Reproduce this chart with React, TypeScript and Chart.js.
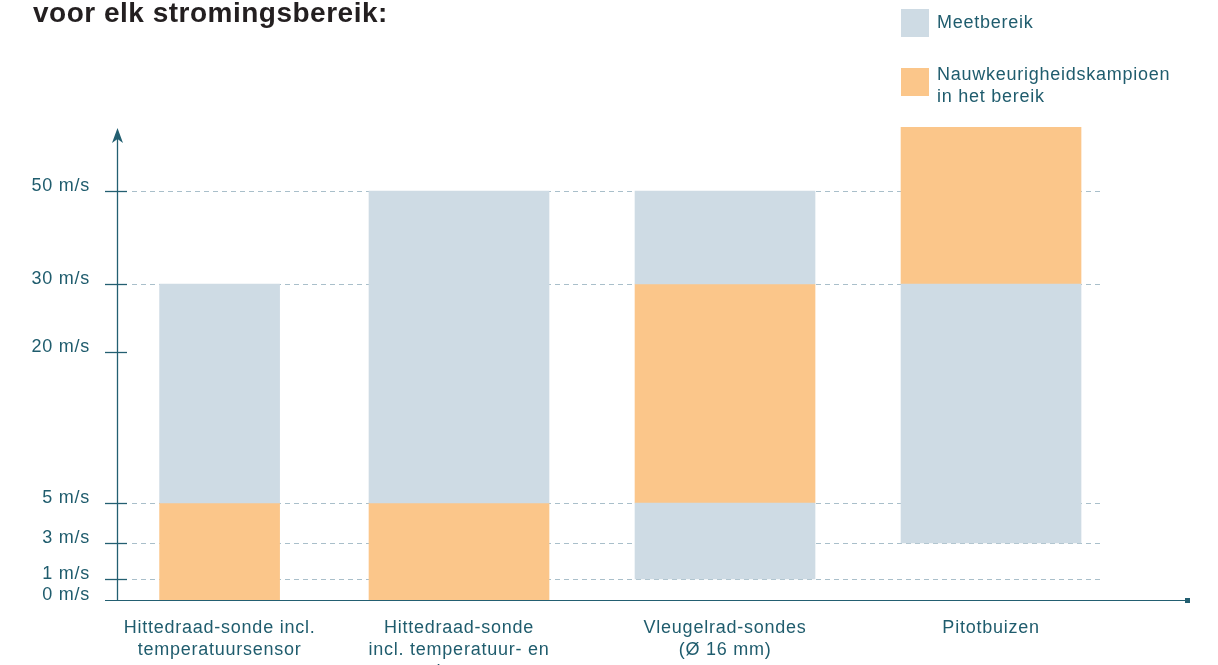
import React, { useEffect, useRef } from 'react';
import { Chart, registerables, LinearScale } from 'chart.js';

// ---------- data ----------
const categories: string[][] = [
  ['Hittedraad-sonde incl.', 'temperatuursensor'],
  ['Hittedraad-sonde', 'incl. temperatuur- en', 'vochtsensor'],
  ['Vleugelrad-sondes', '(Ø 16 mm)'],
  ['Pitotbuizen'],
];
const categoryX = [0.1, 1, 2, 3];
const meetbereik: ([number, number] | null)[] = [[5, 30], [5, 50], [1, 5], [3, 30]];
const meetbereikBoven: ([number, number] | null)[] = [null, null, [30, 50], null];
const nauwkeurigheid: ([number, number] | null)[] = [[0, 5], [0, 5], [5, 30], [30, 100]];
const yTickValues = [0, 1, 3, 5, 20, 30, 50];
const gridValues = [1, 3, 5, 30, 50];
const axisMax = 100;

// ---------- axis break layout (share of axis height per value) ----------
const breakValues = [0, 1, 3, 5, 20, 30, 50, 100];
const breakShares = [0, 21, 57, 97, 248, 316, 409, 473].map((p) => p / 473);

// ---------- styles ----------
const FONT = '"Liberation Sans", Arial, Helvetica, sans-serif';
const TEAL = '#1f5c6d';
const AXIS = '#235f71';
const BLUE = '#cedbe4';
const ORANGE = '#fbc68a';
const GRID = '#a9bfca';
const SPACING = '0.75px';

function toShare(v: number): number {
  if (v <= breakValues[0]) return breakShares[0];
  for (let i = 1; i < breakValues.length; i++) {
    if (v <= breakValues[i]) {
      const t = (v - breakValues[i - 1]) / (breakValues[i] - breakValues[i - 1]);
      return breakShares[i - 1] + t * (breakShares[i] - breakShares[i - 1]);
    }
  }
  return breakShares[breakShares.length - 1];
}
function fromShare(s: number): number {
  if (s <= breakShares[0]) return breakValues[0];
  for (let i = 1; i < breakShares.length; i++) {
    if (s <= breakShares[i]) {
      const t = (s - breakShares[i - 1]) / (breakShares[i] - breakShares[i - 1]);
      return breakValues[i - 1] + t * (breakValues[i] - breakValues[i - 1]);
    }
  }
  return breakValues[breakValues.length - 1];
}

class BrokenScale extends LinearScale {
  static id = 'broken';
  static defaults = LinearScale.defaults;
  getPixelForValue(value: number) {
    return (this as any).getPixelForDecimal(toShare(value));
  }
  getValueForPixel(pixel: number) {
    return fromShare((this as any).getDecimalForPixel(pixel));
  }
}

Chart.register(...registerables, BrokenScale as any);

function points(ranges: ([number, number] | null)[], idx: number[]) {
  return idx.filter((i) => ranges[i]).map((i) => ({ x: categoryX[i], y: ranges[i] }));
}

const decor = {
  id: 'decor',
  beforeDraw(chart: any) {
    try { chart.ctx.letterSpacing = SPACING; } catch (e) { /* ignore */ }
  },
  beforeDatasetsDraw(chart: any) {
    const { ctx, chartArea, scales } = chart;
    const y = scales.y;
    ctx.save();
    ctx.setLineDash([5, 4]);
    ctx.strokeStyle = GRID;
    ctx.lineWidth = 1.2;
    gridValues.forEach((v) => {
      const py = Math.round(y.getPixelForValue(v)) + 0.5;
      ctx.beginPath();
      ctx.moveTo(chartArea.left + 15, py);
      ctx.lineTo(chartArea.right - 88, py);
      ctx.stroke();
    });
    ctx.restore();
  },
  afterDatasetsDraw(chart: any) {
    const { ctx, chartArea, scales } = chart;
    const y = scales.y;
    const { left, right, top, bottom } = chartArea;
    ctx.save();
    ctx.strokeStyle = AXIS;
    ctx.fillStyle = AXIS;
    ctx.lineWidth = 1.3;
    // y axis
    ctx.beginPath();
    ctx.moveTo(left + 0.5, top + 10);
    ctx.lineTo(left + 0.5, bottom);
    ctx.stroke();
    // arrow head
    ctx.beginPath();
    ctx.moveTo(left + 0.5, top + 1);
    ctx.lineTo(left - 5, top + 16);
    ctx.lineTo(left + 0.5, top + 12);
    ctx.lineTo(left + 6, top + 16);
    ctx.closePath();
    ctx.fill();
    // tick marks
    yTickValues.forEach((v) => {
      if (v === 0) return;
      const py = Math.round(y.getPixelForValue(v)) + 0.5;
      ctx.beginPath();
      ctx.moveTo(left - 12, py);
      ctx.lineTo(left + 10, py);
      ctx.stroke();
    });
    // x axis
    ctx.lineWidth = 1.2;
    ctx.beginPath();
    ctx.moveTo(left - 12, bottom + 0.5);
    ctx.lineTo(right - 2, bottom + 0.5);
    ctx.stroke();
    ctx.fillRect(right - 5, bottom - 2, 5, 5);
    ctx.restore();
  },
};

export default function App() {
  const ref = useRef<HTMLCanvasElement>(null);
  useEffect(() => {
    if (!ref.current) return;
    Chart.defaults.font.family = FONT;
    const first = [0];
    const rest = [1, 2, 3];
    const common = {
      grouped: false,
      barPercentage: 1,
      categoryPercentage: 1,
      borderWidth: 0,
    };
    const chart = new Chart(ref.current, {
      type: 'bar',
      data: {
        datasets: [
          { ...common, label: 'Meetbereik', data: points(meetbereik, first), backgroundColor: BLUE, maxBarThickness: 120 },
          { ...common, label: 'Nauwkeurigheidskampioen in het bereik', data: points(nauwkeurigheid, first), backgroundColor: ORANGE, maxBarThickness: 120 },
          { ...common, label: 'Meetbereik', data: points(meetbereik, rest), backgroundColor: BLUE, maxBarThickness: 180 },
          { ...common, label: 'Meetbereik', data: points(meetbereikBoven, rest), backgroundColor: BLUE, maxBarThickness: 180 },
          { ...common, label: 'Nauwkeurigheidskampioen in het bereik', data: points(nauwkeurigheid, rest), backgroundColor: ORANGE, maxBarThickness: 180 },
        ] as any,
      },
      options: {
        animation: false,
        responsive: false,
        events: [],
        layout: { padding: { top: 127, right: 28, left: 0, bottom: 0 } },
        plugins: { legend: { display: false }, tooltip: { enabled: false }, title: { display: false } },
        scales: {
          x: {
            type: 'linear',
            min: -0.2857,
            max: 3.748,
            offset: false,
            afterBuildTicks: (s: any) => { s.ticks = categoryX.map((v) => ({ value: v })); },
            afterFit: (s: any) => { s.height = 65; },
            grid: { display: false, drawTicks: false },
            border: { display: false },
            ticks: {
              autoSkip: false,
              maxRotation: 0,
              minRotation: 0,
              padding: 17,
              color: TEAL,
              font: { size: 18, lineHeight: 22 / 18 },
              callback: (_v: any, i: number) => categories[i],
            },
          },
          y: {
            type: 'broken' as any,
            min: 0,
            max: axisMax,
            stacked: false,
            afterBuildTicks: (s: any) => { s.ticks = yTickValues.map((v) => ({ value: v })); },
            afterFit: (s: any) => { s.width = 117; },
            grid: { display: false, drawTicks: false },
            border: { display: false },
            ticks: {
              autoSkip: false,
              padding: 27,
              labelOffset: -5,
              color: TEAL,
              font: { size: 18 },
              callback: (v: any) => `${v} m/s`,
            },
          },
        } as any,
      },
      plugins: [decor],
    });
    return () => chart.destroy();
  }, []);

  const legendText: React.CSSProperties = {
    position: 'absolute',
    left: 937,
    fontFamily: FONT,
    fontSize: 18,
    lineHeight: '22px',
    letterSpacing: SPACING,
    color: TEAL,
    whiteSpace: 'nowrap',
  };

  return (
    <div style={{ position: 'fixed', left: 0, top: 0, width: 1218, height: 665, background: '#fff', overflow: 'hidden' }}>
      <canvas ref={ref} width={1218} height={665} style={{ position: 'absolute', left: 0, top: 0, width: 1218, height: 665 }} />
      <div
        style={{
          position: 'absolute', left: 33, top: -1, fontFamily: FONT, fontWeight: 'bold', fontSize: 28,
          lineHeight: '28px', letterSpacing: '0.5px', color: '#231f20', whiteSpace: 'nowrap',
        }}
      >
        voor elk stromingsbereik:
      </div>
      <div style={{ position: 'absolute', left: 901, top: 9, width: 28, height: 28, background: BLUE }} />
      <div style={{ ...legendText, top: 11 }}>Meetbereik</div>
      <div style={{ position: 'absolute', left: 901, top: 68, width: 28, height: 28, background: ORANGE }} />
      <div style={{ ...legendText, top: 63 }}>
        Nauwkeurigheidskampioen
        <br />
        in het bereik
      </div>
    </div>
  );
}
